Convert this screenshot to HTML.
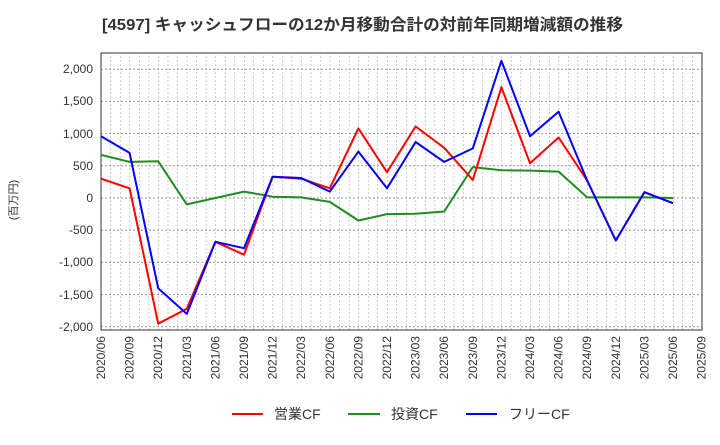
<!DOCTYPE html>
<html><head><meta charset="utf-8"><style>
body{margin:0;background:#fff;width:720px;height:440px;overflow:hidden}
text{font-family:"Liberation Sans","Noto Sans CJK JP",sans-serif;fill:#333}
</style></head><body>
<svg width="720" height="440" xmlns="http://www.w3.org/2000/svg">
<defs><pattern id="vg" patternUnits="userSpaceOnUse" x="101" y="0" width="9.5333" height="440">
<line x1="0" y1="0" x2="0" y2="440" stroke="#999" stroke-width="1" stroke-dasharray="2,2"/></pattern></defs>
<text x="102" y="30" font-size="16" font-weight="bold" textLength="521" lengthAdjust="spacingAndGlyphs" style="fill:#333">[4597]  キャッシュフローの12か月移動合計の対前年同期増減額の推移</text>
<rect x="101" y="53" width="601" height="277" fill="url(#vg)"/>
<g stroke="#999" stroke-dasharray="2,2" stroke-width="1">
<line x1="101" x2="702" y1="69.2" y2="69.2"/><line x1="101" x2="702" y1="101.4" y2="101.4"/>
<line x1="101" x2="702" y1="133.6" y2="133.6"/><line x1="101" x2="702" y1="165.8" y2="165.8"/>
<line x1="101" x2="702" y1="198" y2="198"/><line x1="101" x2="702" y1="230.2" y2="230.2"/>
<line x1="101" x2="702" y1="262.4" y2="262.4"/><line x1="101" x2="702" y1="294.6" y2="294.6"/>
<line x1="101" x2="702" y1="326.8" y2="326.8"/></g>
<rect x="101" y="53" width="601" height="277" fill="none" stroke="#333" stroke-width="1"/>
<g font-size="12" text-anchor="end">
<text x="93" y="73">2,000</text><text x="93" y="105">1,500</text><text x="93" y="138">1,000</text>
<text x="93" y="170">500</text><text x="93" y="202">0</text><text x="93" y="234">-500</text>
<text x="93" y="266">-1,000</text><text x="93" y="299">-1,500</text><text x="93" y="331">-2,000</text>
</g>
<text transform="translate(17,200) rotate(-90)" font-size="11" text-anchor="middle">(百万円)</text>
<g font-size="12" text-anchor="end">
<text transform="translate(105,336) rotate(-90)">2020/06</text>
<text transform="translate(133.6,336) rotate(-90)">2020/09</text>
<text transform="translate(162.2,336) rotate(-90)">2020/12</text>
<text transform="translate(190.8,336) rotate(-90)">2021/03</text>
<text transform="translate(219.4,336) rotate(-90)">2021/06</text>
<text transform="translate(248,336) rotate(-90)">2021/09</text>
<text transform="translate(276.6,336) rotate(-90)">2021/12</text>
<text transform="translate(305.2,336) rotate(-90)">2022/03</text>
<text transform="translate(333.8,336) rotate(-90)">2022/06</text>
<text transform="translate(362.4,336) rotate(-90)">2022/09</text>
<text transform="translate(391,336) rotate(-90)">2022/12</text>
<text transform="translate(419.6,336) rotate(-90)">2023/03</text>
<text transform="translate(448.2,336) rotate(-90)">2023/06</text>
<text transform="translate(476.8,336) rotate(-90)">2023/09</text>
<text transform="translate(505.4,336) rotate(-90)">2023/12</text>
<text transform="translate(534,336) rotate(-90)">2024/03</text>
<text transform="translate(562.6,336) rotate(-90)">2024/06</text>
<text transform="translate(591.2,336) rotate(-90)">2024/09</text>
<text transform="translate(619.8,336) rotate(-90)">2024/12</text>
<text transform="translate(648.4,336) rotate(-90)">2025/03</text>
<text transform="translate(677,336) rotate(-90)">2025/06</text>
<text transform="translate(705.6,336) rotate(-90)">2025/09</text>
</g>
<g fill="none" stroke-width="2" stroke-linejoin="round">
<polyline stroke="#228b22" points="101,154.9 129.6,161.9 158.2,161.3 186.8,204.4 215.4,198 244,191.6 272.6,196.7 301.2,197.4 329.8,201.9 358.4,220.5 387,214.1 415.6,213.8 444.2,211.5 472.8,167.1 501.4,170.3 530,170.6 558.6,171.6 587.2,197.4 615.8,197.4 644.4,197.4 673,198"/>
<polyline stroke="#ff0000" points="101,178.7 129.6,188.3 158.2,323.6 186.8,308.8 215.4,241.8 244,254.7 272.6,176.7 301.2,178.7 329.8,188.3 358.4,128.4 387,172.2 415.6,126.5 444.2,147.8 472.8,180 501.4,87.2 530,163.2 558.6,137.5 587.2,180.6 615.8,240.5 644.4,192.2 673,203.2"/>
<polyline stroke="#0000ff" points="101,136.2 129.6,152.9 158.2,288.2 186.8,313.9 215.4,241.8 244,248.2 272.6,176.7 301.2,178 329.8,191.6 358.4,151.6 387,188.3 415.6,142 444.2,161.9 472.8,148.4 501.4,60.8 530,136.2 558.6,111.7 587.2,180.6 615.8,240.5 644.4,192.2 673,203.2"/>
</g>
<g stroke-width="2"><line x1="232" x2="263" y1="414" y2="414" stroke="#ff0000"/>
<line x1="348" x2="380" y1="414" y2="414" stroke="#228b22"/>
<line x1="466" x2="497" y1="414" y2="414" stroke="#0000ff"/></g>
<g font-size="14"><text x="274" y="419">営業CF</text><text x="391" y="419">投資CF</text><text x="509" y="419">フリーCF</text></g>
</svg>
</body></html>
